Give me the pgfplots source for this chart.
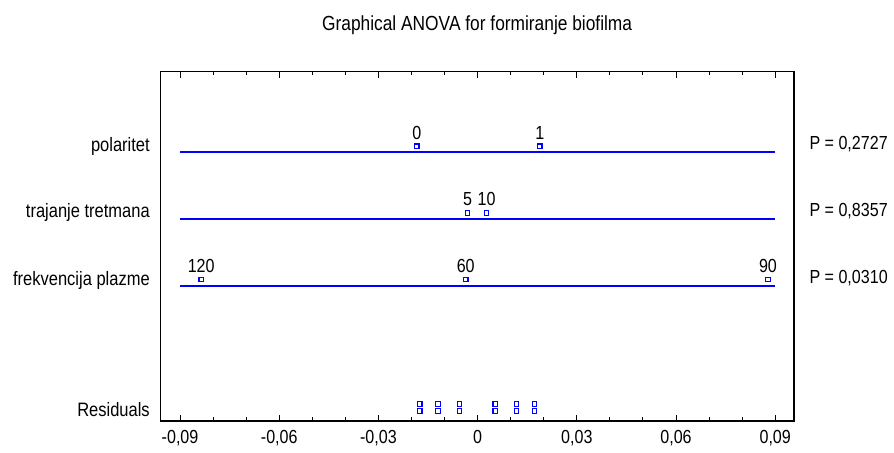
\documentclass[border=0pt]{standalone}
\usepackage{fontspec}
\setmainfont{Liberation Sans}[FakeStretch=0.85]
\usepackage{pgfplots}
\pgfplotsset{compat=1.18}
\definecolor{lvl}{RGB}{0,0,255}
\begin{document}
\fontsize{19}{22}\selectfont
\begin{tikzpicture}
\begin{axis}[
  scale only axis, width=637pt, height=351pt,
  xmin=-0.096, xmax=0.0957, ymin=0, ymax=351,
  axis line style={line width=1.4pt},
  xtick={-0.09,-0.06,-0.03,0,0.03,0.06,0.09},
  scaled x ticks=false,
  minor x tick num=2,
  tick align=inside, xtick pos=both,
  major tick length=6pt, minor tick length=3.5pt,
  every tick/.style={black, line width=1pt},
  /pgf/number format/assume math mode=true,
  /pgf/number format/use comma,
  /pgf/number format/fixed,
  /pgf/number format/precision=2,
  xticklabel style={font=\fontsize{19}{22}\selectfont, yshift=-3pt},
  ytick={11.3,141,209,276},
  yticklabels={Residuals,frekvencija plazme,trajanje tretmana,polaritet},
  ytick style={draw=none},
  yticklabel style={font=\fontsize{19.5}{22}\selectfont, anchor=east, xshift=-4pt},
  unbounded coords=jump,
  clip=false,
]
% level lines
\addplot[color=lvl, line width=2pt] coordinates {
  (-0.09,270) (0.09,270) (nan,nan)
  (-0.09,203) (0.09,203) (nan,nan)
  (-0.09,136) (0.09,136)
};
% level means
\addplot[color=lvl, only marks, mark=square, mark size=2.2pt, line width=1.2pt,
  mark options={draw=lvl, fill=white},
  nodes near coords, point meta=explicit symbolic,
  every node near coord/.style={black, font=\fontsize{19}{22}\selectfont, yshift=0pt}]
  coordinates {
  (-0.0184,276) [0]
  (0.0188,276) [1]
  (-0.0030,209) [5]
  (0.0027,209) [10]
  (-0.0836,142) [120]
  (-0.0036,142) [60]
  (0.0878,142) [90]
};
% residuals
\addplot[color=lvl, only marks, mark=square, mark size=2.2pt, line width=1.2pt,
  mark options={draw=lvl, fill=white}]
  coordinates {
  (-0.0175,17) (-0.0175,10)
  (-0.0120,17) (-0.0120,10)
  (-0.0055,17) (-0.0055,10)
  (0.0053,17) (0.0053,10)
  (0.0118,17) (0.0118,10)
  (0.0172,17) (0.0172,10)
};
\node[anchor=west] at (rel axis cs:1,0) [yshift=278pt, xshift=9pt] {P = 0,2727};
\node[anchor=west] at (rel axis cs:1,0) [yshift=211pt, xshift=9pt] {P = 0,8357};
\node[anchor=west] at (rel axis cs:1,0) [yshift=144pt, xshift=9pt] {P = 0,0310};
\node[font=\fontsize{20.5}{24}\selectfont] at (rel axis cs:0.5,1) [yshift=47pt] {Graphical ANOVA for formiranje biofilma};
\end{axis}
\path (current axis.south west) ++(-161pt,-29pt);
\path (current axis.north east) ++(96pt,72pt);
\end{tikzpicture}
\end{document}
